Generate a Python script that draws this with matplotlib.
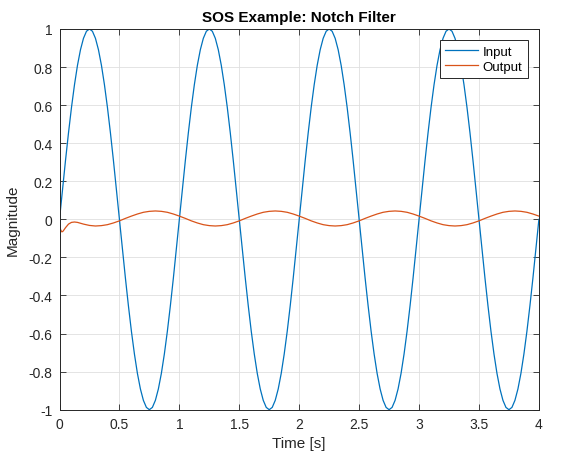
import numpy as np
import matplotlib
matplotlib.use("Agg")
import matplotlib.pyplot as plt
from matplotlib.ticker import FuncFormatter

plt.rcParams["font.family"] = ["Liberation Sans", "DejaVu Sans"]
plt.rcParams["axes.unicode_minus"] = False

# Input: one half period, 0.025 s apart
input_step = 0.025
input_half = [0, 0.156, 0.309, 0.454, 0.588, 0.707, 0.809, 0.891, 0.951, 0.988,
              1.0, 0.988, 0.951, 0.891, 0.809, 0.707, 0.588, 0.454, 0.309, 0.156]
input_periods = 4

# Output: start-up transient (irregular times) then steady period, 0.05 s apart
out_trans_t = [0, 0.01, 0.02, 0.03, 0.05, 0.075, 0.1, 0.125, 0.15, 0.2,
               0.25, 0.3, 0.35, 0.4, 0.45]
out_trans_y = [-0.03, -0.056, -0.066, -0.062, -0.044, -0.025, -0.016, -0.014,
               -0.016, -0.025, -0.032, -0.035, -0.033, -0.028, -0.019]
out_step = 0.05
out_start = 0.5
out_period = [-0.008, 0.005, 0.017, 0.028, 0.037, 0.042, 0.044, 0.042, 0.037, 0.028,
              0.017, 0.005, -0.008, -0.019, -0.028, -0.033, -0.035, -0.033, -0.028, -0.019]

x_ticks = [0, 0.5, 1, 1.5, 2, 2.5, 3, 3.5, 4]
y_ticks = [-1, -0.8, -0.6, -0.4, -0.2, 0, 0.2, 0.4, 0.6, 0.8, 1]

# build the series from the read values
input_period = input_half + [-v for v in input_half]
input_y = np.array(input_period * input_periods + [0.0])
input_t = input_step * np.arange(len(input_y))

n_steady = int(round((4 - out_start) / out_step)) + 1
steady_y = np.tile(out_period, 4)[:n_steady]
steady_t = out_start + out_step * np.arange(n_steady)
output_t = np.concatenate([out_trans_t, steady_t])
output_y = np.concatenate([out_trans_y, steady_y])

fig = plt.figure(figsize=(5.64, 4.6), dpi=100)
ax = fig.add_axes([0.1055, 0.1072, 0.850, 0.8276])

ax.plot(input_t, input_y, color="#0072BD", lw=0.9, label="Input")
ax.plot(output_t, output_y, color="#D95319", lw=0.9, label="Output")

ax.set_xlim(0, 4)
ax.set_ylim(-1, 1)
ax.set_xticks(x_ticks)
ax.set_yticks(y_ticks)
fmt = FuncFormatter(lambda v, p: ("%g" % round(v, 2)))
ax.xaxis.set_major_formatter(fmt)
ax.yaxis.set_major_formatter(fmt)
ax.tick_params(direction="in", length=4, width=0.6, labelsize=10,
               colors="#262626", top=True, right=True, pad=5)
ax.grid(True, color="#DFDFDF", lw=0.6)
ax.set_axisbelow(True)
for s in ax.spines.values():
    s.set_linewidth(0.7)
    s.set_color("#262626")

ax.set_title("SOS Example: Notch Filter", fontsize=11, fontweight="bold", pad=6)
ax.set_xlabel("Time [s]", fontsize=11, color="#262626")
ax.set_ylabel("Magnitude", fontsize=11, color="#262626", labelpad=6)

leg = ax.legend(loc="upper right", fontsize=9.5, fancybox=False, framealpha=1,
                edgecolor="#262626", handlelength=2.5, borderaxespad=0.85,
                borderpad=0.4, labelspacing=0.2, handletextpad=0.35)
leg.get_frame().set_linewidth(0.7)

fig.savefig("out.png", dpi=100)
